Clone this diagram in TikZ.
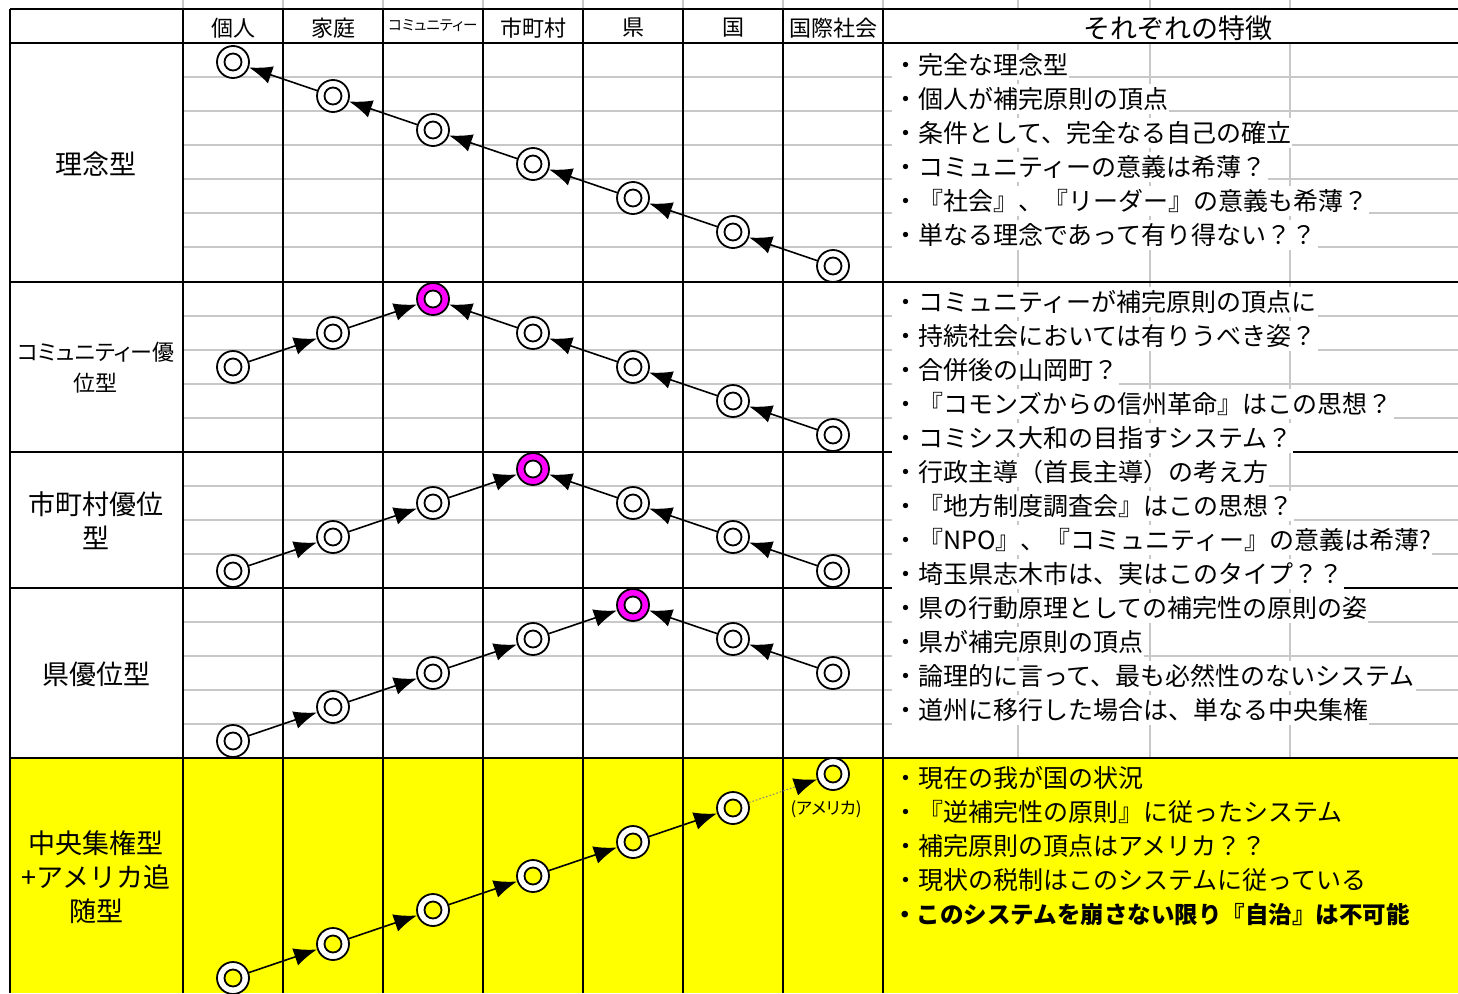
\documentclass[tikz,border=0pt]{standalone}
\usepackage{fontspec}
\setmainfont{Noto Sans CJK JP}
\newfontfamily\paltfont{Noto Sans CJK JP}[RawFeature=+palt]
\usetikzlibrary{arrows.meta}
\definecolor{gridgray}{RGB}{200,200,200}
\definecolor{apexpink}{RGB}{255,0,255}
\definecolor{hilite}{RGB}{255,255,0}
\tikzset{
  unit/.style={circle, draw, line width=1.8pt, minimum size=32pt, inner sep=0pt, fill=white,
    path picture={\draw[line width=1.8pt, fill=white] (path picture bounding box.center) circle (8.5pt);}},
  apex/.style={unit, fill=apexpink},
  yunit/.style={unit,
    path picture={\draw[line width=1.8pt, fill=hilite] (path picture bounding box.center) circle (8.5pt);}},
  arr/.style={-{Latex[length=23pt,width=18pt]}, line width=1.6pt},
  head/.style={font=\fontsize{22}{26}\selectfont},
  kind/.style={font=\fontsize{27}{34}\selectfont, align=center},
  note/.style={anchor=west, font=\fontsize{25}{30}\selectfont, fill=white,
    inner xsep=1pt, inner ysep=0pt, minimum height=30pt},
  rule/.style={line width=2.4pt},
  thin grid/.style={gridgray, line width=1.5pt}
}
\begin{document}
\begin{tikzpicture}[x=1pt,y=-1pt]
\useasboundingbox (0,0) rectangle (1458,993);
\fill[hilite] (10,758) rectangle (1458,993);
%\draw[step=34,gray,very thin] (0,0) grid (1458,993);
% sheet grid
\foreach \y in {77,111,145,179,213,247,316,350,384,418,486,520,554,622,656,690,724}
  \draw[thin grid] (183,\y) -- (1458,\y);
\foreach \x in {183,283,383,483,583,683,783,883}
  \draw[thin grid] (\x,0) -- (\x,9);
\foreach \x in {1018,1150,1290} {
  \draw[thin grid] (\x,0) -- (\x,9);
  \draw[thin grid] (\x,43) -- (\x,758);
}
\foreach \y in {9,43,282,452,588,758}
  \draw[rule] (10,\y) -- (1458,\y);
\foreach \x in {10,183,283,383,483,583,683,783,883}
  \draw[rule] (\x,9) -- (\x,993);

% header
\node[head] (h1) at (233,28) {個人};
\node[head] (h2) at (333,28) {家庭};
\node[font=\paltfont\fontsize{14.5}{16}\selectfont] (h3) at (433,26) {コミュニティー};
\node[head] (h4) at (533,28) {市町村};
\node[head] (h5) at (633,28) {県};
\node[head] (h6) at (733,28) {国};
\node[head] (h7) at (833,28) {国際社会};
\node[font=\fontsize{27}{32}\selectfont] (h8) at (1178,28) {それぞれの特徴};

% row labels
\node[kind] (kA) at (96,164) {理念型};
\node[kind, font=\paltfont\fontsize{22}{31}\selectfont] (kB) at (96,368) {コミュニティー優\\位型};
\node[kind] (kC) at (96,521) {市町村優位\\型};
\node[kind] (kD) at (96,674) {県優位型};
\node[kind] (kE) at (96,877) {中央集権型\\+アメリカ追\\随型};

% features
\node[note] (nA1) at (892,65) {・完全な理念型};
\node[note] (nA2) at (892,99) {・個人が補完原則の頂点};
\node[note] (nA3) at (892,133) {・条件として、完全なる自己の確立};
\node[note] (nA4) at (892,167) {・コミュニティーの意義は希薄？};
\node[note] (nA5) at (892,201) {・『社会』、『リーダー』の意義も希薄？};
\node[note] (nA6) at (892,235) {・単なる理念であって有り得ない？？};
\node[note] (nB1) at (892,302) {・コミュニティーが補完原則の頂点に};
\node[note] (nB2) at (892,336) {・持続社会においては有りうべき姿？};
\node[note] (nB3) at (892,370) {・合併後の山岡町？};
\node[note] (nB4) at (892,404) {・『コモンズからの信州革命』はこの思想？};
\node[note] (nB5) at (892,438) {・コミシス大和の目指すシステム？};
\node[note] (nC1) at (892,472) {・行政主導（首長主導）の考え方};
\node[note] (nC2) at (892,506) {・『地方制度調査会』はこの思想？};
\node[note] (nC3) at (892,540) {・『NPO』、『コミュニティー』の意義は希薄?};
\node[note] (nC4) at (892,574) {・埼玉県志木市は、実はこのタイプ？？};
\node[note] (nD1) at (892,608) {・県の行動原理としての補完性の原則の姿};
\node[note] (nD2) at (892,642) {・県が補完原則の頂点};
\node[note] (nD3) at (892,676) {・論理的に言って、最も必然性のないシステム};
\node[note] (nD4) at (892,710) {・道州に移行した場合は、単なる中央集権};
\node[note, fill=hilite] (nE1) at (892,778) {・現在の我が国の状況};
\node[note, fill=hilite] (nE2) at (892,812) {・『逆補完性の原則』に従ったシステム};
\node[note, fill=hilite] (nE3) at (892,846) {・補完原則の頂点はアメリカ？？};
\node[note, fill=hilite] (nE4) at (892,880) {・現状の税制はこのシステムに従っている};
\node[note, fill=hilite, font=\fontsize{23.5}{30}\selectfont\bfseries] (nE5) at (892,915) {・このシステムを崩さない限り『自治』は不可能};

% 理念型
\node[unit] (a1) at (233,62) {};
\node[unit] (a2) at (333,96) {};
\node[unit] (a3) at (433,130) {};
\node[unit] (a4) at (533,164) {};
\node[unit] (a5) at (633,198) {};
\node[unit] (a6) at (733,232) {};
\node[unit] (a7) at (833,266) {};
\draw[arr] (a2) -- (a1);
\draw[arr] (a3) -- (a2);
\draw[arr] (a4) -- (a3);
\draw[arr] (a5) -- (a4);
\draw[arr] (a6) -- (a5);
\draw[arr] (a7) -- (a6);

% コミュニティー優位型
\node[unit] (b1) at (233,367) {};
\node[unit] (b2) at (333,333) {};
\node[apex] (b3) at (433,299) {};
\node[unit] (b4) at (533,333) {};
\node[unit] (b5) at (633,367) {};
\node[unit] (b6) at (733,401) {};
\node[unit] (b7) at (833,435) {};
\draw[arr] (b1) -- (b2);
\draw[arr] (b2) -- (b3);
\draw[arr] (b4) -- (b3);
\draw[arr] (b5) -- (b4);
\draw[arr] (b6) -- (b5);
\draw[arr] (b7) -- (b6);

% 市町村優位型
\node[unit] (c1) at (233,571) {};
\node[unit] (c2) at (333,537) {};
\node[unit] (c3) at (433,503) {};
\node[apex] (c4) at (533,469) {};
\node[unit] (c5) at (633,503) {};
\node[unit] (c6) at (733,537) {};
\node[unit] (c7) at (833,571) {};
\draw[arr] (c1) -- (c2);
\draw[arr] (c2) -- (c3);
\draw[arr] (c3) -- (c4);
\draw[arr] (c5) -- (c4);
\draw[arr] (c6) -- (c5);
\draw[arr] (c7) -- (c6);

% 県優位型
\node[unit] (d1) at (233,741) {};
\node[unit] (d2) at (333,707) {};
\node[unit] (d3) at (433,673) {};
\node[unit] (d4) at (533,639) {};
\node[apex] (d5) at (633,605) {};
\node[unit] (d6) at (733,639) {};
\node[unit] (d7) at (833,673) {};
\draw[arr] (d1) -- (d2);
\draw[arr] (d2) -- (d3);
\draw[arr] (d3) -- (d4);
\draw[arr] (d4) -- (d5);
\draw[arr] (d6) -- (d5);
\draw[arr] (d7) -- (d6);

% 中央集権型
\node[yunit] (e1) at (233,978) {};
\node[yunit] (e2) at (333,944) {};
\node[yunit] (e3) at (433,910) {};
\node[yunit] (e4) at (533,876) {};
\node[yunit] (e5) at (633,842) {};
\node[yunit] (e6) at (733,808) {};
\node[yunit] (e7) at (833,774) {};
\node[font=\paltfont\fontsize{17}{19}\selectfont] (us) at (826,809) {(アメリカ)};
\draw[arr] (e1) -- (e2);
\draw[arr] (e2) -- (e3);
\draw[arr] (e3) -- (e4);
\draw[arr] (e4) -- (e5);
\draw[arr] (e5) -- (e6);
\draw[arr, gray, dotted, line width=1pt, -{Latex[length=23pt,width=18pt,black]}] (e6) -- (e7);
\end{tikzpicture}
\end{document}
